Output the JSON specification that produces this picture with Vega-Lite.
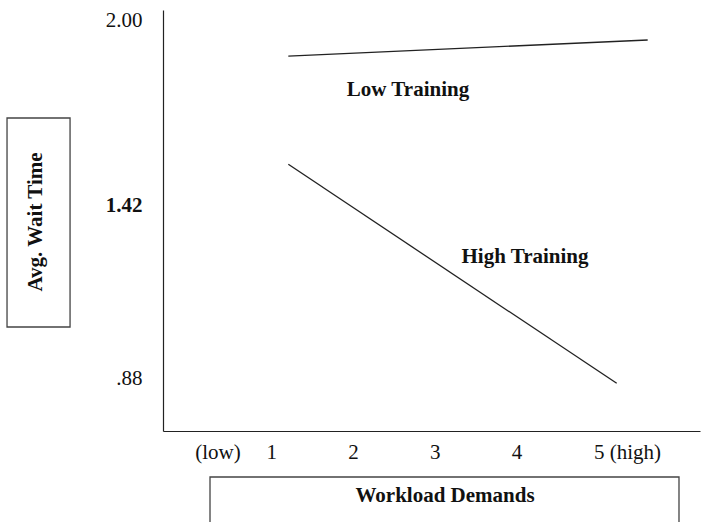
{
  "$schema": "https://vega.github.io/schema/vega-lite/v6.json",
  "width": 537,
  "height": 421,
  "autosize": {"type": "none"},
  "padding": {"left": 163, "top": 10, "right": 1, "bottom": 91},
  "background": "white",
  "config": {
    "view": {"stroke": null},
    "font": "Liberation Serif",
    "axis": {"grid": false, "ticks": false, "domainColor": "#222", "domainWidth": 1.2, "labelFont": "Liberation Serif", "labelFontSize": 21, "labelColor": "#111", "title": null, "labelOverlap": false, "labelFlush": false, "labelBound": false}
  },
  "datasets": {
    "lines": [
      {"series": "Low Training", "x": 1.208, "y": 1.888},
      {"series": "Low Training", "x": 5.604, "y": 1.9385},
      {"series": "High Training", "x": 1.208, "y": 1.5497},
      {"series": "High Training", "x": 5.225, "y": 0.8646}
    ],
    "notes": [
      {"label": "Low Training", "x": 2.672, "y": 1.7633},
      {"label": "High Training", "x": 4.103, "y": 1.2409}
    ],
    "boxes": [
      {"box": "y title", "x": -2.233, "x2": -1.462, "y": 1.6945, "y2": 1.0408},
      {"box": "x title", "x": 0.25, "x2": 5.987, "y": 0.5716, "y2": 0.3745}
    ],
    "xtitle": [{"label": "Workload Demands", "x": 3.125, "y": 0.4934}],
    "ytitle": [{"label": "Avg. Wait Time", "x": -1.805, "y": 1.3692}]
  },
  "layer": [
    {
      "data": {"name": "lines"},
      "mark": {"type": "line", "color": "#222", "strokeWidth": 1.3},
      "encoding": {
        "x": {"field": "x", "type": "quantitative", "scale": {"domain": [-0.325, 6.244], "nice": false, "zero": false},
          "axis": {"values": [0.342, 1, 2, 3, 4, 5.351], "labelPadding": 10,
            "labelExpr": "datum.value < 0.5 ? '(low)' : (datum.value > 5.2 ? '5 (high)' : format(datum.value, 'd'))"}},
        "y": {"field": "y", "type": "quantitative", "scale": {"domain": [0.7155, 2.0323], "nice": false, "zero": false},
          "axis": {"values": [0.88, 1.42, 2.0], "labelPadding": 21,
            "labelFontWeight": {"condition": {"test": "abs(datum.value - 1.42) < 0.001", "value": "bold"}, "value": "normal"},
            "labelExpr": "datum.value > 1.9 ? '2.00' : (datum.value > 1.3 ? '1.42' : '.88')"}},
        "detail": {"field": "series"}
      }
    },
    {
      "data": {"name": "notes"},
      "mark": {"type": "text", "font": "Liberation Serif", "fontSize": 21, "fontWeight": "bold", "color": "#111", "align": "center", "baseline": "alphabetic"},
      "encoding": {
        "x": {"field": "x", "type": "quantitative"},
        "y": {"field": "y", "type": "quantitative"},
        "text": {"field": "label"}
      }
    },
    {
      "data": {"name": "boxes"},
      "mark": {"type": "rect", "fill": null, "fillOpacity": 0, "stroke": "#444", "strokeWidth": 1.3, "clip": false},
      "encoding": {
        "x": {"field": "x", "type": "quantitative"},
        "x2": {"field": "x2"},
        "y": {"field": "y", "type": "quantitative"},
        "y2": {"field": "y2"}
      }
    },
    {
      "data": {"name": "xtitle"},
      "mark": {"type": "text", "font": "Liberation Serif", "fontSize": 21, "fontWeight": "bold", "color": "#111", "align": "center", "baseline": "alphabetic"},
      "encoding": {
        "x": {"field": "x", "type": "quantitative"},
        "y": {"field": "y", "type": "quantitative"},
        "text": {"field": "label"}
      }
    },
    {
      "data": {"name": "ytitle"},
      "mark": {"type": "text", "font": "Liberation Serif", "fontSize": 21, "fontWeight": "bold", "color": "#111", "align": "center", "baseline": "alphabetic", "angle": 270},
      "encoding": {
        "x": {"field": "x", "type": "quantitative"},
        "y": {"field": "y", "type": "quantitative"},
        "text": {"field": "label"}
      }
    }
  ]
}
